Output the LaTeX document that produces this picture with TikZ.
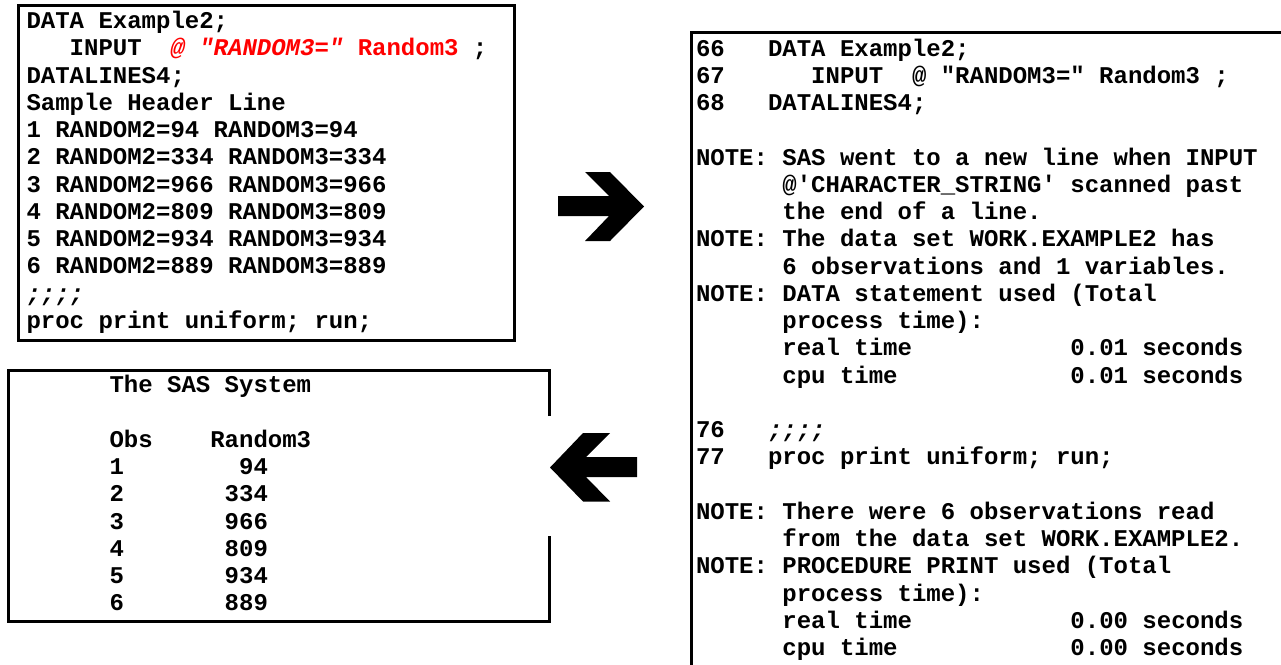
\documentclass[tikz,border=0pt]{standalone}
\usepackage{fontspec}
\setmonofont{Liberation Mono}
\newcommand\codefont{\fontsize{24}{27}\selectfont\ttfamily\bfseries\frenchspacing}
\tikzset{
  txt/.style={anchor=base west, inner sep=0pt, outer sep=0pt, font=\codefont},
  frame/.style={line width=3pt, draw=black, line join=miter},
  bigarrow/.style={fill=black},
}
\begin{document}
\begin{tikzpicture}[x=1pt,y=-1pt]
\useasboundingbox (0,0) rectangle (1281,664);
\fill[white] (0,0) rectangle (1281,664);
% ---------- box 1 : program ----------
\draw[frame] (18,5) rectangle (514,340);
\def\ax{26.5}
\node[txt] (a0)  at (\ax,28.5) {DATA Example2;};
\node[txt] (a1)  at (\ax,55.75) {~~~INPUT~~{\color{red}\itshape @~"RANDOM3="}~{\color{red}Random3}~;};
\node[txt] (a2)  at (\ax,83) {DATALINES4;};
\node[txt] (a3)  at (\ax,110.25) {Sample Header Line};
\node[txt] (a4)  at (\ax,137.5) {1 RANDOM2=94 RANDOM3=94};
\node[txt] (a5)  at (\ax,164.75) {2 RANDOM2=334 RANDOM3=334};
\node[txt] (a6)  at (\ax,192) {3 RANDOM2=966 RANDOM3=966};
\node[txt] (a7)  at (\ax,219.25) {4 RANDOM2=809 RANDOM3=809};
\node[txt] (a8)  at (\ax,246.5) {5 RANDOM2=934 RANDOM3=934};
\node[txt] (a9)  at (\ax,273.75) {6 RANDOM2=889 RANDOM3=889};
\node[txt] (a10) at (\ax,301) {{\itshape ;;;;}};
\node[txt] (a11) at (\ax,328.25) {proc print uniform; run;};
% ---------- box 2 : output ----------
\draw[frame] (549,416) -- (549,370) -- (8,370) -- (8,621) -- (549,621) -- (549,536);
\def\bx{109.5}
\node[txt] (b0) at (\bx,392.5) {The SAS System};
\node[txt] (b2) at (\bx,447.1) {Obs~~~~Random3};
\node[txt] (b3) at (\bx,474.4) {1~~~~~~~~94};
\node[txt] (b4) at (\bx,501.7) {2~~~~~~~334};
\node[txt] (b5) at (\bx,529.0) {3~~~~~~~966};
\node[txt] (b6) at (\bx,556.3) {4~~~~~~~809};
\node[txt] (b7) at (\bx,583.6) {5~~~~~~~934};
\node[txt] (b8) at (\bx,610.9) {6~~~~~~~889};
% ---------- box 3 : log ----------
\draw[frame] (1284,32) -- (691,32) -- (691,667);
\def\cx{696}
\node[txt] (c0)  at (\cx,56) {66~~~DATA Example2;};
\node[txt] (c1)  at (\cx,83.25) {67~~~~~~INPUT~~@~"RANDOM3="~Random3~;};
\node[txt] (c2)  at (\cx,110.5) {68~~~DATALINES4;};
\node[txt] (c4)  at (\cx,165) {NOTE: SAS went to a new line when INPUT};
\node[txt] (c5)  at (\cx,192.25) {~~~~~~@'CHARACTER\_STRING' scanned past};
\node[txt] (c6)  at (\cx,219.5) {~~~~~~the end of a line.};
\node[txt] (c7)  at (\cx,246.75) {NOTE: The data set WORK.EXAMPLE2 has};
\node[txt] (c8)  at (\cx,274) {~~~~~~6 observations and 1 variables.};
\node[txt] (c9)  at (\cx,301.25) {NOTE: DATA statement used (Total};
\node[txt] (c10) at (\cx,328.5) {~~~~~~process time):};
\node[txt] (c11) at (\cx,355.75) {~~~~~~real time~~~~~~~~~~~0.01 seconds};
\node[txt] (c12) at (\cx,383) {~~~~~~cpu time~~~~~~~~~~~~0.01 seconds};
\node[txt] (c14) at (\cx,437.5) {76~~~{\itshape ;;;;}};
\node[txt] (c15) at (\cx,464.75) {77~~~proc print uniform; run;};
\node[txt] (c17) at (\cx,519.25) {NOTE: There were 6 observations read};
\node[txt] (c18) at (\cx,546.5) {~~~~~~from the data set WORK.EXAMPLE2.};
\node[txt] (c19) at (\cx,573.75) {NOTE: PROCEDURE PRINT used (Total};
\node[txt] (c20) at (\cx,601) {~~~~~~process time):};
\node[txt] (c21) at (\cx,628.25) {~~~~~~real time~~~~~~~~~~~0.00 seconds};
\node[txt] (c22) at (\cx,655.5) {~~~~~~cpu time~~~~~~~~~~~~0.00 seconds};
% ---------- arrows ----------
\fill[bigarrow] (558,196) -- (609,196) -- (585,172) -- (610,172) -- (644,206.5)
  -- (610,241) -- (585,241) -- (609,216) -- (558,216) -- cycle;
\fill[bigarrow] (550,467.5) -- (583,433) -- (610,433) -- (586,457) -- (637,457)
  -- (637,477) -- (586,477) -- (610,501.5) -- (583,501.5) -- cycle;
\end{tikzpicture}
\end{document}
